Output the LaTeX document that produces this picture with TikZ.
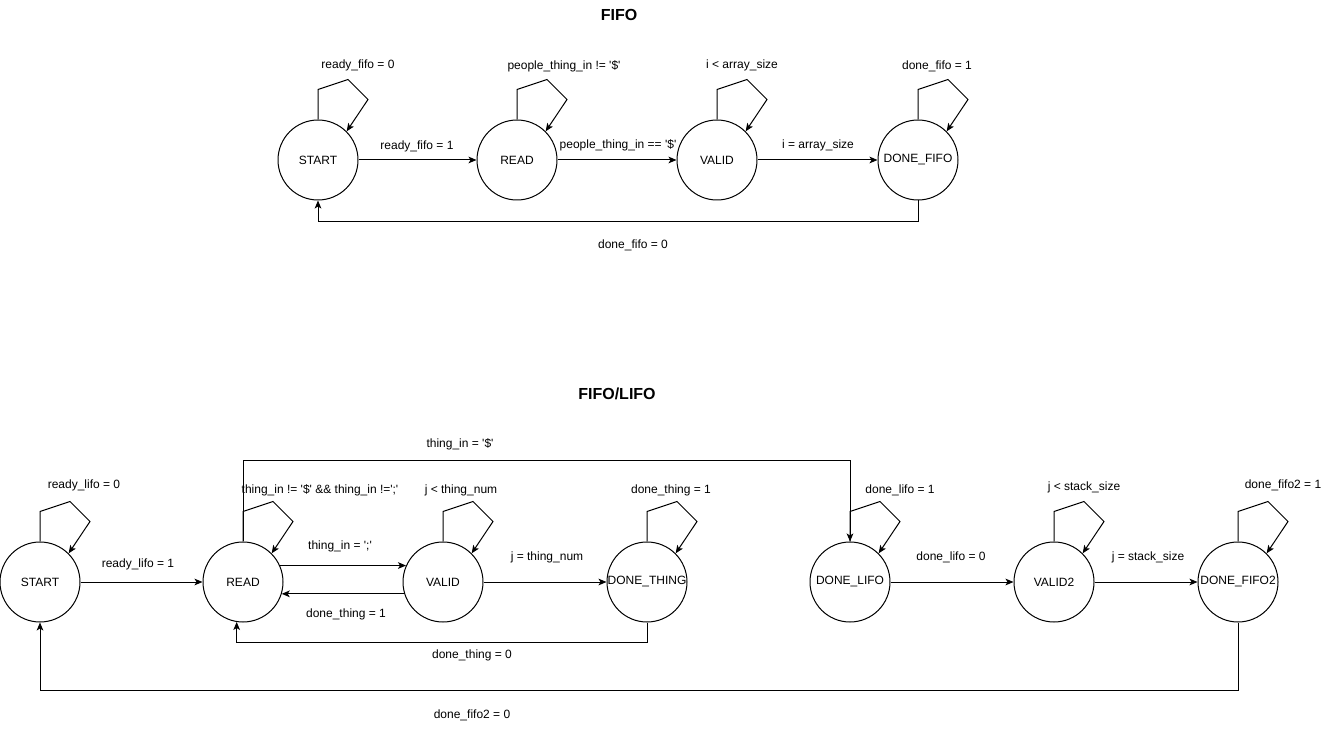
\documentclass[tikz,border=0pt]{standalone}
\usepackage{fontspec}
\setmainfont{Liberation Sans}
\usetikzlibrary{arrows.meta}
\newcommand\sq{\textquotesingle}
\newcommand\selfloop[1]{\draw[arr] (#1.north) -- ++(0,-30) -- ++(30,-10) -- ++(20,20) -- (#1.45);}
\begin{document}
\begin{tikzpicture}[x=0.75pt,y=-0.75pt,
  line width=0.75pt,
  state/.style={circle,draw,minimum size=60pt,inner sep=0pt,font=\fontsize{9}{11}\selectfont},
  lbl/.style={inner sep=0pt,font=\fontsize{9}{11}\selectfont},
  ttl/.style={inner sep=0pt,font=\fontsize{12}{14}\selectfont\bfseries},
  arr/.style={-{Stealth[length=6pt,width=5pt,inset=1.5pt]}}]
\useasboundingbox (0,0) rectangle (1335,730);

% ---------- FIFO ----------
\node[ttl] (t1) at (619,15) {FIFO};
\node[state] (S) at (318,160) {START};
\node[state] (R) at (517,160) {READ};
\node[state] (V) at (717,160) {VALID};
\node[state] (D) at (918,160) {DONE\_FIFO};

\selfloop{S}
\selfloop{R}
\selfloop{V}
\selfloop{D}

\node[lbl] (lS) at (358,65) {ready\_fifo = 0};
\node[lbl] (lR) at (564,66) {people\_thing\_in != \sq\$\sq};
\node[lbl] (lV) at (742,65) {i < array\_size};
\node[lbl] (lD) at (937,66) {done\_fifo = 1};

\draw[arr] (S) -- (R);
\draw[arr] (R) -- (V);
\draw[arr] (V) -- (D);
\draw[arr] (D.south) -- ++(0,21) -| (S.south);

\node[lbl] (eSR) at (417,146) {ready\_fifo = 1};
\node[lbl] (eRV) at (618,145) {people\_thing\_in == \sq\$\sq};
\node[lbl] (eVD) at (818,145) {i = array\_size};
\node[lbl] (eDS) at (633,245) {done\_fifo = 0};

% ---------- FIFO/LIFO ----------
\node[ttl] (t2) at (617,394) {FIFO/LIFO};
\node[state] (S2) at (40,582) {START};
\node[state] (R2) at (243,582) {READ};
\node[state] (V2) at (443,582) {VALID};
\node[state] (DT) at (647,582) {DONE\_THING};
\node[state] (DL) at (850,582) {DONE\_LIFO};
\node[state] (VV) at (1054,582) {VALID2};
\node[state] (DF) at (1238,582) {DONE\_FIFO2};

\selfloop{S2}
\selfloop{R2}
\selfloop{V2}
\selfloop{DT}
\selfloop{DL}
\selfloop{VV}
\selfloop{DF}

\node[lbl] (lS2) at (84,485) {ready\_lifo = 0};
\node[lbl] (lR2) at (320,490) {thing\_in != \sq\$\sq{} \&\& thing\_in !=\sq;\sq};
\node[lbl] (lV2) at (461,490) {j < thing\_num};
\node[lbl] (lDT) at (671,490) {done\_thing = 1};
\node[lbl] (lDL) at (900,490) {done\_lifo = 1};
\node[lbl] (lVV) at (1084,487) {j < stack\_size};
\node[lbl] (lDF) at (1283,485) {done\_fifo2 = 1};

\draw[arr] (S2) -- (R2);
\draw[arr] (R2.24) -- (V2.156);
\draw[arr] (V2.197) -- (R2.-17);
\draw[arr] (V2) -- (DT);
\draw[arr] (DT.south) -- ++(0,20) -| (R2.-99);
\draw[arr] (R2.north) -- ++(0,-81) -| (DL.north);
\draw[arr] (DL) -- (VV);
\draw[arr] (VV) -- (DF);
\draw[arr] (DF.south) -- ++(0,68) -| (S2.south);

\node[lbl] (eRD) at (460,444) {thing\_in = \sq\$\sq};
\node[lbl] (eSR2) at (138,564) {ready\_lifo = 1};
\node[lbl] (eRV2) at (340,546) {thing\_in = \sq;\sq};
\node[lbl] (eVT) at (547,557) {j = thing\_num};
\node[lbl] (eLV) at (951,557) {done\_lifo = 0};
\node[lbl] (eVF) at (1148,557) {j = stack\_size};
\node[lbl] (eVR) at (346,614) {done\_thing = 1};
\node[lbl] (eTR) at (472,655) {done\_thing = 0};
\node[lbl] (eFS) at (472,715) {done\_fifo2 = 0};
\end{tikzpicture}
\end{document}
